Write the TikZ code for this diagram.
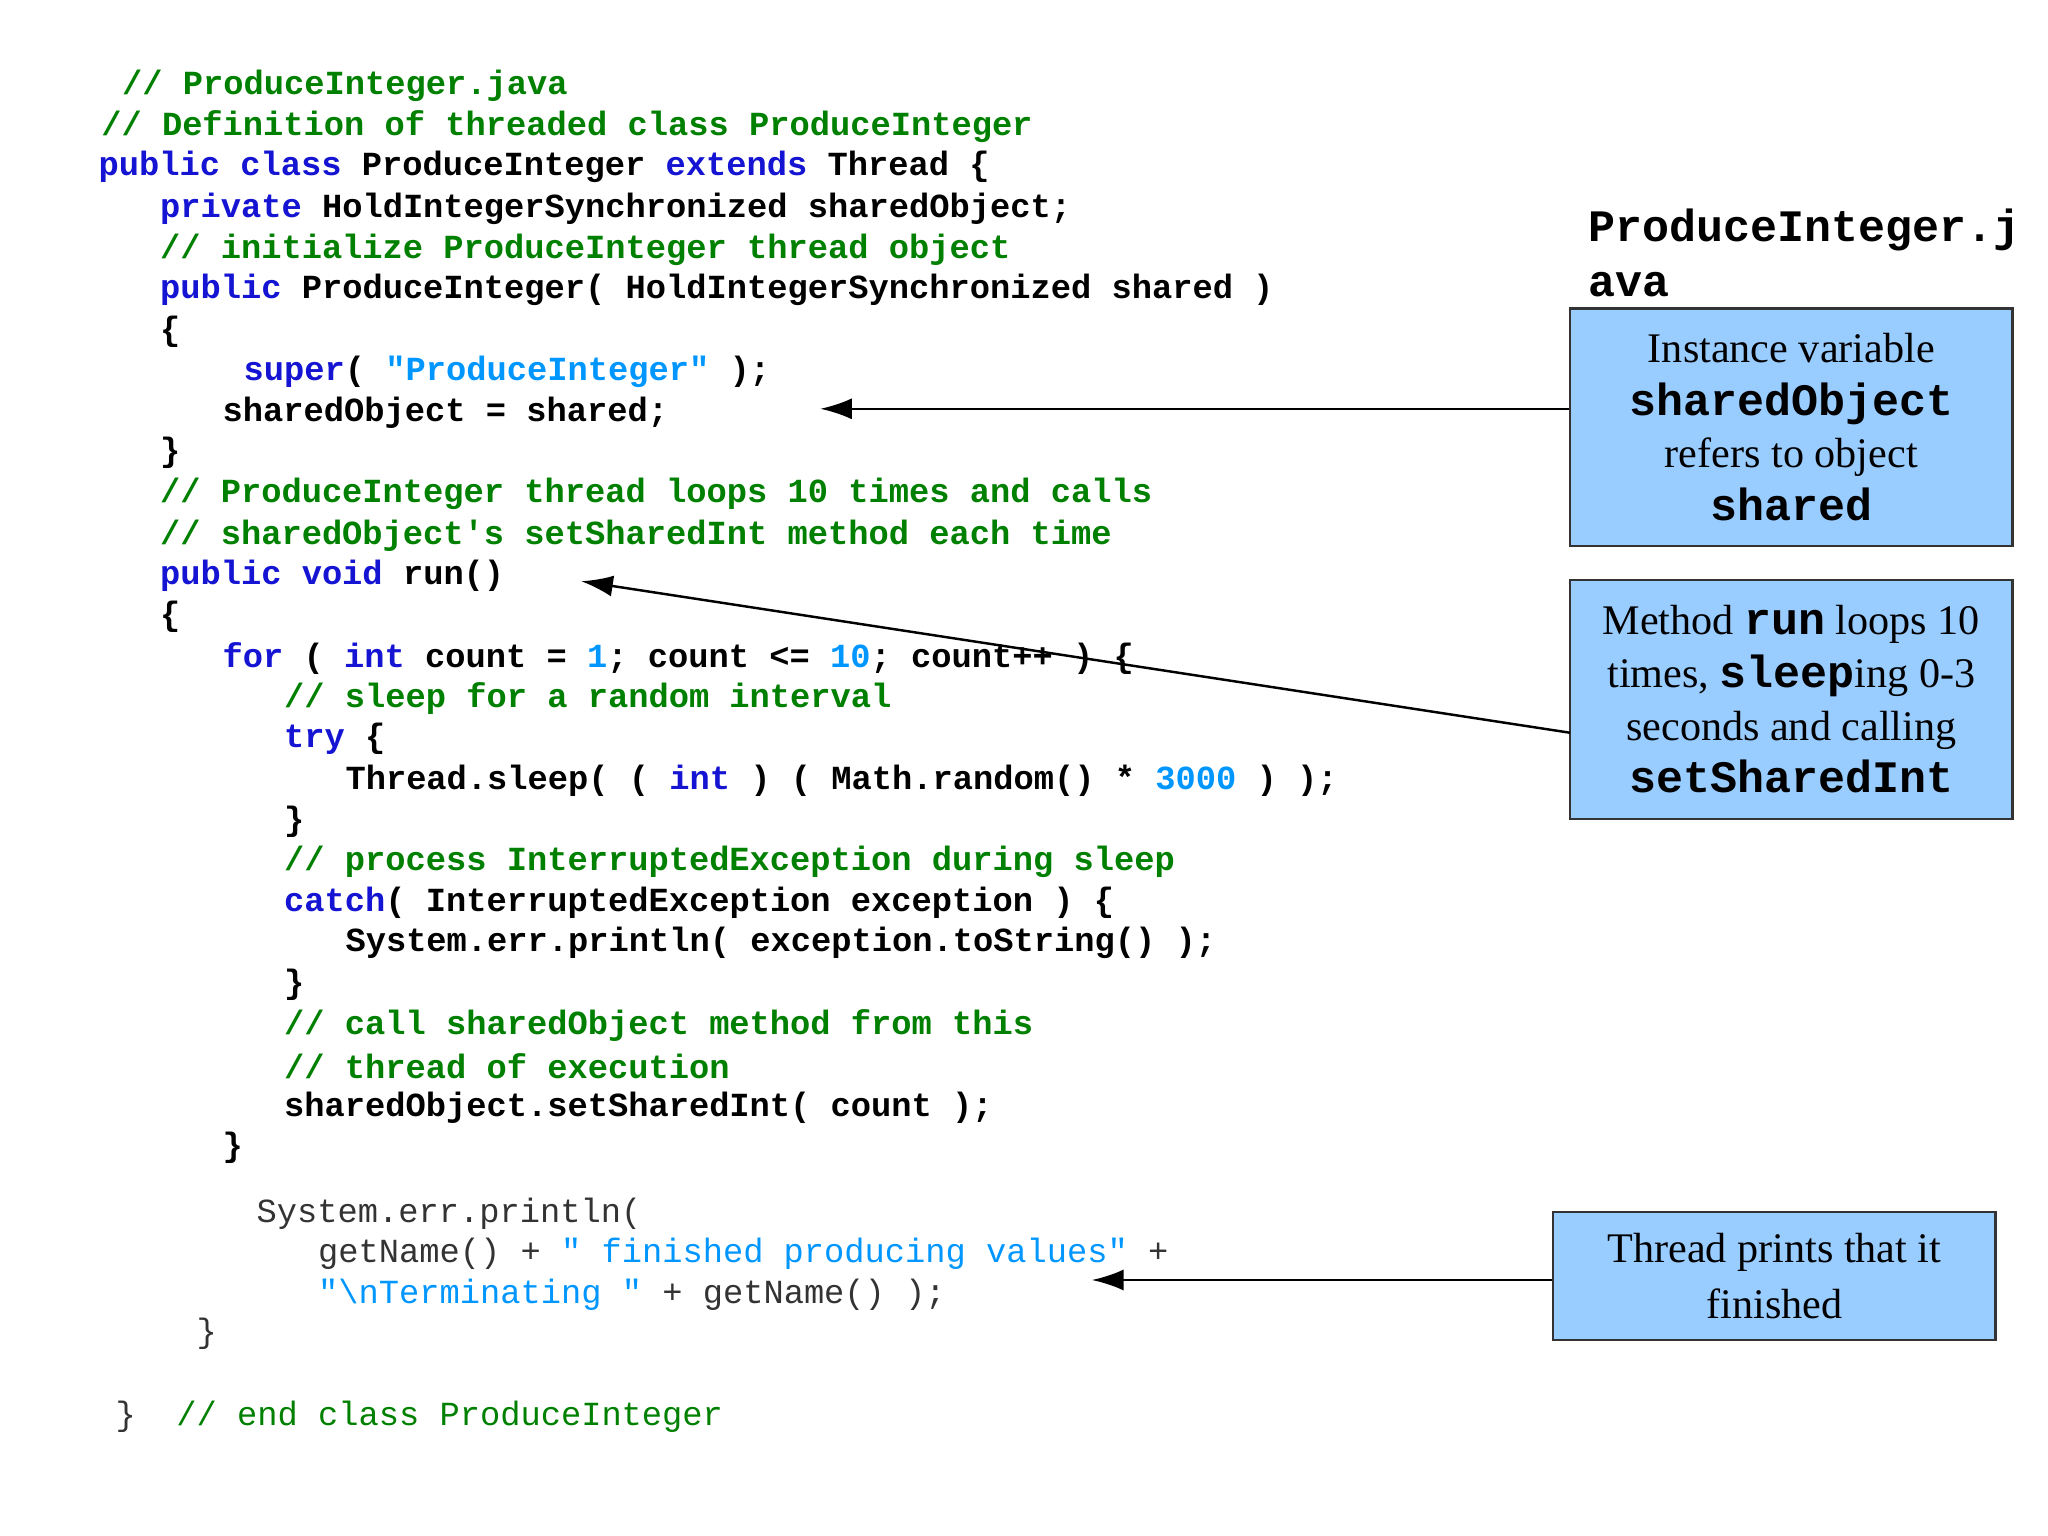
\documentclass[tikz,border=0pt]{standalone}
\usepackage{fontspec}
\setmainfont{Liberation Serif}
\setmonofont{Liberation Mono}
\usetikzlibrary{arrows.meta}
\definecolor{kwc}{RGB}{20,20,210}
\definecolor{cmc}{RGB}{0,128,0}
\definecolor{stc}{RGB}{0,150,255}
\definecolor{boxc}{RGB}{153,204,255}
\newcommand{\kw}[1]{\textcolor{kwc}{#1}}
\newcommand{\st}[1]{\textcolor{stc}{#1}}
\newcommand{\bmt}{\ttfamily\bfseries\fontsize{12.8}{16}\selectfont}
\begin{document}
\begin{tikzpicture}[x=0.01306cm,y=-0.01306cm,
  cl/.style={anchor=west,inner sep=0,font=\ttfamily\bfseries\fontsize{9.6}{10}\selectfont},
  cr/.style={anchor=west,inner sep=0,text=black!80,font=\ttfamily\fontsize{9.6}{10}\selectfont},
  cmt/.style={cl,text=cmc},
  box/.style={draw=black!80,line width=0.8pt,fill=boxc,align=center,font=\fontsize{12}{16}\selectfont},
  arr/.style={-{Latex[length=9pt,width=6pt]},line width=0.7pt}]
\useasboundingbox (0,0) rectangle (1568,1176);
\node[cmt] (l1) at (93,66) {// ProduceInteger.java};
\node[cmt] (l2) at (77,97) {// Definition of threaded class ProduceInteger};
\node[cl] (l3) at (75,128) {\kw{public class} ProduceInteger \kw{extends} Thread \{};
\node[cl] (l4) at (122,160) {\kw{private} HoldIntegerSynchronized sharedObject;};
\node[cmt] (l5) at (122,191) {// initialize ProduceInteger thread object};
\node[cl] (l6) at (122,222) {\kw{public} ProduceInteger( HoldIntegerSynchronized shared )};
\node[cl] (l7) at (122,254) {\{};
\node[cl] (l8) at (186,285) {\kw{super}( \st{"ProduceInteger"} );};
\node[cl] (l9) at (170,316) {sharedObject = shared;};
\node[cl] (l10) at (122,347) {\}};
\node[cmt] (l11) at (122,378) {// ProduceInteger thread loops 10 times and calls};
\node[cmt] (l12) at (122,410) {// sharedObject's setSharedInt method each time};
\node[cl] (l13) at (122,441) {\kw{public void} run()};
\node[cl] (l14) at (122,472) {\{};
\node[cl] (l15) at (170,504) {\kw{for} ( \kw{int} count = \st{1}; count <= \st{10}; count++ ) \{};
\node[cmt] (l16) at (217,535) {// sleep for a random interval};
\node[cl] (l17) at (217,566) {\kw{try} \{};
\node[cl] (l18) at (264,598) {Thread.sleep( ( \kw{int} ) ( Math.random() * \st{3000} ) );};
\node[cl] (l19) at (217,629) {\}};
\node[cmt] (l20) at (217,660) {// process InterruptedException during sleep};
\node[cl] (l21) at (217,691) {\kw{catch}( InterruptedException exception ) \{};
\node[cl] (l22) at (264,722) {System.err.println( exception.toString() );};
\node[cl] (l23) at (217,754) {\}};
\node[cmt] (l24) at (217,785) {// call sharedObject method from this};
\node[cmt] (l25) at (217,816) {// thread of execution};
\node[cl] (l26) at (217,848) {sharedObject.setSharedInt( count );};
\node[cl] (l27) at (170,879) {\}};
\node[cr] (l28) at (196,929) {System.err.println(};
\node[cr] (l29) at (243,960) {getName() + \st{" finished producing values"} +};
\node[cr] (l30) at (243,991) {\st{"\textbackslash nTerminating "} + getName() );};
\node[cr] (l31) at (150,1021) {\}};
\node[cr] (l32) at (88,1085) {\}\ \ \textcolor{cmc}{// end class ProduceInteger}};
\node[anchor=west,inner sep=0,font=\bmt] (t1) at (1216,176) {ProduceInteger.j};
\node[anchor=west,inner sep=0,font=\bmt] (t2) at (1216,218) {ava};
\node[box,minimum width=339*0.01306cm,minimum height=182*0.01306cm] (b1) at (1371.5,327)
  {Instance variable\\[-1pt] {\bmt sharedObject}\\[-1pt] refers to object\\[-1pt] {\bmt shared}};
\node[box,minimum width=339*0.01306cm,minimum height=183*0.01306cm] (b2) at (1371.5,535.5)
  {Method {\bmt run} loops 10\\[-1pt] times, {\bmt sleep}ing 0-3\\[-1pt] seconds and calling\\[-1pt] {\bmt setSharedInt}};
\node[box,minimum width=339*0.01306cm,minimum height=98*0.01306cm] (b3) at (1358.5,977)
  {Thread prints that it\\ finished};
\coordinate (e1) at (628,313);
\coordinate (s2) at (1202,561);
\coordinate (e2) at (445,445);
\coordinate (e3) at (836,980);
\draw[arr] (b1.west |- e1) -- (e1);
\draw[arr] (s2) -- (e2);
\draw[arr] (b3.west |- e3) -- (e3);
\end{tikzpicture}
\end{document}
